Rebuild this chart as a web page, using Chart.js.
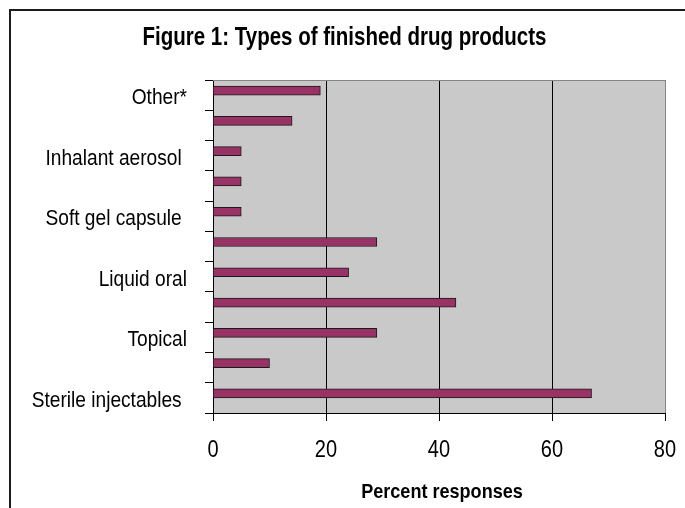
<!DOCTYPE html>
<html>
<head>
<meta charset="utf-8">
<script src="https://cdn.jsdelivr.net/npm/chart.js@4/dist/chart.umd.min.js"></script>
<style>
  html, body { margin: 0; padding: 0; background: #ffffff; }
  canvas { display: block; }
</style>
</head>
<body>
<canvas id="chart" width="685" height="508"></canvas>
<script>
// Survey data: share of respondents making each type of finished drug product
const chartTitle = 'Figure 1: Types of finished drug products';
const axisTitle = 'Percent responses';
const categories = ['Other*', '', 'Inhalant aerosol ', '', 'Soft gel capsule ', '', 'Liquid oral', '', 'Topical', '', 'Sterile injectables '];
const responses = [19, 14, 5, 5, 5, 29, 24, 43, 29, 10, 67];
// second (empty) series of the clustered bar layout
const secondSeries = [null, null, null, null, null, null, null, null, null, null, null];
const xTickValues = [0, 20, 40, 60, 80];

const FONT = "'Liberation Sans', Arial, sans-serif";

// Draws text squeezed horizontally to give a condensed face
function condensedText(ctx, text, x, y, align, font, squeeze) {
  ctx.save();
  ctx.font = font;
  ctx.fillStyle = '#000000';
  ctx.textAlign = align;
  ctx.textBaseline = 'alphabetic';
  ctx.translate(x, y);
  ctx.scale(squeeze, 1);
  ctx.fillText(text, 0, 0);
  ctx.restore();
}

const frameAndPlot = {
  id: 'frameAndPlot',
  beforeDraw(chart) {
    const { ctx, chartArea: a } = chart;
    ctx.save();
    // plot area fill
    ctx.fillStyle = '#c9c9c9';
    ctx.fillRect(a.left, a.top, a.right - a.left, a.bottom - a.top);
    // outer frame (left and top edges)
    ctx.strokeStyle = '#1c1c1c';
    ctx.lineWidth = 2;
    ctx.beginPath();
    ctx.moveTo(10, chart.height);
    ctx.lineTo(10, 10);
    ctx.lineTo(chart.width, 10);
    ctx.stroke();
    ctx.restore();
  },
  beforeDatasetsDraw(chart) {
    const { ctx, chartArea: a } = chart;
    ctx.save();
    ctx.strokeStyle = '#858585';
    ctx.lineWidth = 1;
    ctx.beginPath();
    ctx.moveTo(a.left, a.top + 0.5);
    ctx.lineTo(a.right, a.top + 0.5);
    ctx.stroke();
    ctx.restore();
  },
  afterDraw(chart) {
    const { ctx, chartArea: a } = chart;
    const xs = chart.scales.x;
    const ys = chart.scales.y;
    // heading
    condensedText(ctx, chartTitle, 344.5, 45, 'center', 'bold 25px ' + FONT, 0.82);
    // category labels
    categories.forEach((label, i) => {
      if (!label) return;
      const y = ys.getPixelForValue(i);
      condensedText(ctx, label, 187, y + 9, 'right', '22px ' + FONT, 0.87);
    });
    // value axis labels
    xTickValues.forEach(v => {
      condensedText(ctx, String(v), xs.getPixelForValue(v), 457, 'center', '23px ' + FONT, 0.87);
    });
    // value axis title
    condensedText(ctx, axisTitle, (a.left + a.right) / 2 + 3, 498, 'center', 'bold 21px ' + FONT, 0.86);
  }
};

new Chart(document.getElementById('chart'), {
  type: 'bar',
  data: {
    labels: categories,
    datasets: [
      {
        label: axisTitle,
        data: responses,
        backgroundColor: '#993366',
        borderColor: '#1a1a1a',
        borderWidth: 1,
        barThickness: 9
      },
      {
        label: '',
        data: secondSeries,
        backgroundColor: '#993366',
        barThickness: 9
      }
    ]
  },
  plugins: [frameAndPlot],
  options: {
    indexAxis: 'y',
    responsive: false,
    animation: false,
    layout: { padding: { top: 80, right: 20, left: 0, bottom: 0 } },
    plugins: {
      legend: { display: false },
      title: { display: false },
      tooltip: { enabled: false }
    },
    scales: {
      x: {
        type: 'linear',
        min: 0,
        max: 80,
        afterBuildTicks(scale) {
          scale.ticks = xTickValues.map(v => ({ value: v }));
        },
        afterFit(scale) { scale.height = 95; },
        grid: {
          color: ctx => (ctx.tick && ctx.tick.value === 80 ? '#858585' : '#000000'),
          tickColor: '#000000',
          lineWidth: 1,
          tickLength: 8,
          drawTicks: true
        },
        border: { display: true, color: '#000000', width: 1 },
        ticks: { display: false }
      },
      y: {
        type: 'category',
        afterFit(scale) { scale.width = 213; },
        grid: {
          display: true,
          drawOnChartArea: false,
          drawTicks: true,
          tickLength: 8,
          color: '#000000',
          offset: true
        },
        border: { display: true, color: '#000000', width: 1 },
        ticks: { display: false, autoSkip: false }
      }
    }
  }
});
</script>
</body>
</html>
